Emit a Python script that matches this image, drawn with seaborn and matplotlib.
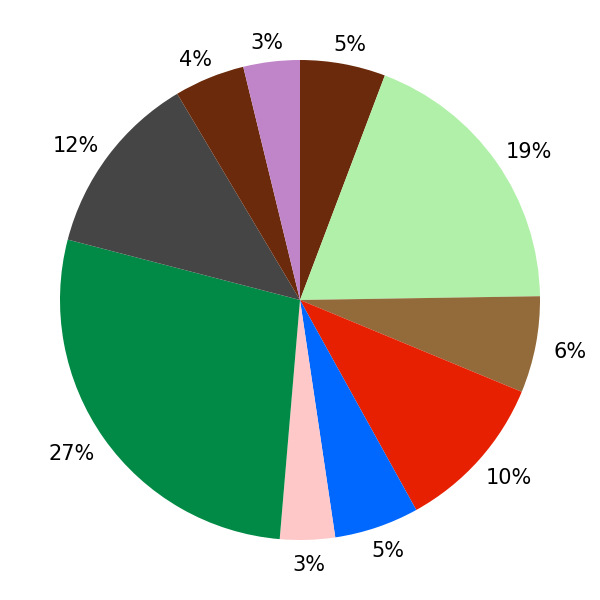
import matplotlib
matplotlib.use("Agg")
import numpy as np
import matplotlib.pyplot as plt
import seaborn as sns

sns.set_theme(style="white")
plt.rcParams['font.family'] = ['DejaVu Sans']

# slice shares (percent), clockwise from the top
values = [5.75, 19.0, 6.5, 10.7, 5.7, 3.7, 27.7, 12.4, 4.75, 3.8]
colors = ["#6b2a0b", "#b0f0a8", "#936a3a", "#e62000", "#0068ff",
          "#fec8c8", "#008a45", "#454545", "#6b2a0b", "#c084c8"]

total = sum(values)
labels = ["%d%%" % round(v / total * 100, 6) for v in values]

fig = plt.figure(figsize=(6, 6), dpi=100)
ax = fig.add_axes([0, 0, 1, 1])
wedges, texts = ax.pie(values, colors=colors, labels=labels, startangle=90,
                       counterclock=False, labeldistance=1.1,
                       wedgeprops={"linewidth": 0},
                       textprops={"fontsize": 15, "color": "black"})
ax.set_xlim(-1.25, 1.25)
ax.set_ylim(-1.25, 1.25)
ax.set_aspect("equal")
ax.axis("off")

# labels sit outside the rim, shifted sideways by part of their width
dist = 1.092
fig.canvas.draw()
renderer = fig.canvas.get_renderer()
px = ax.transData.transform([(1, 0)])[0][0] - ax.transData.transform([(0, 0)])[0][0]
for t, w in zip(texts, wedges):
    ang = np.deg2rad((w.theta1 + w.theta2) / 2)
    dx, dy = np.cos(ang), np.sin(ang)
    t.set_ha("center")
    t.set_va("center")
    hw = t.get_window_extent(renderer).width / 2 / px
    t.set_position(((dist + 0.78 * hw) * dx, dist * dy - 3 / px))

fig.savefig("out.png", dpi=100)
